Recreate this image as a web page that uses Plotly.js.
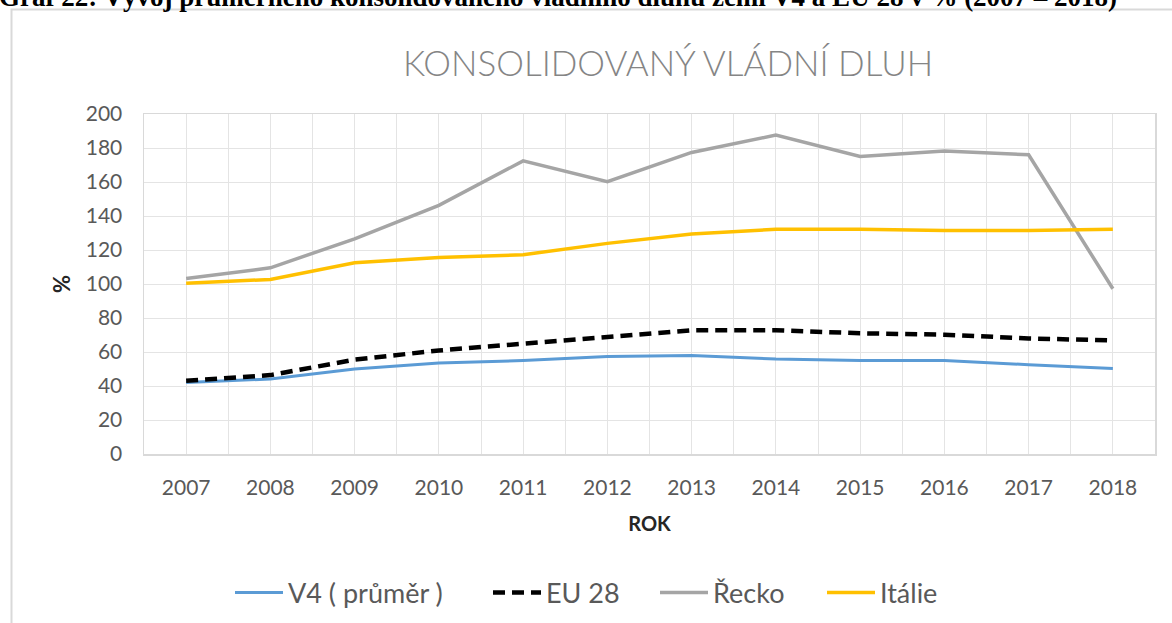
<!DOCTYPE html>
<html>
<head>
<meta charset="utf-8">
<script src="https://cdn.plot.ly/plotly-3.0.1.min.js"></script>
<style>
html,body{margin:0;padding:0;background:#fff;}
#chart{width:1172px;height:623px;}
</style>
</head>
<body>
<div id="chart"></div>
<script>
const years = [2007, 2008, 2009, 2010, 2011, 2012, 2013, 2014, 2015, 2016, 2017, 2018];
const v4 = [42.1, 44.1, 50.0, 53.5, 55.0, 57.4, 58.0, 55.9, 55.0, 55.0, 52.5, 50.3];
const eu28 = [43.1, 46.4, 55.5, 60.9, 64.9, 68.8, 72.8, 72.8, 71.0, 70.2, 68.0, 66.8];
const recko = [103.2, 109.5, 126.6, 146.3, 172.4, 160.2, 177.4, 187.6, 175.0, 178.3, 176.0, 97.2];
const italie = [100.5, 102.7, 112.5, 115.6, 117.2, 123.9, 129.4, 132.2, 132.2, 131.4, 131.4, 132.2];
const seriesNames = ["V4 ( průměr )", "EU 28", "Řecko", "Itálie"];
const yTicks = [0, 20, 40, 60, 80, 100, 120, 140, 160, 180, 200];

const W = 1172, H = 623;
const mL = 144, mR = 17, mT = 114, mB = 169;
const pw = W - mL - mR, ph = H - mT - mB;
const px = x => (x - mL) / pw;
const py = y => (H - mB - y) / ph;

const traces = [
  {x: years, y: v4, name: seriesNames[0], legend: 'legend', mode: 'lines', line: {color: '#5b9bd5', width: 3}},
  {x: years, y: eu28, name: seriesNames[1], legend: 'legend2', mode: 'lines', line: {color: '#000000', width: 4.5, dash: '12px,7px'}},
  {x: years, y: recko, name: seriesNames[2], legend: 'legend3', mode: 'lines', line: {color: '#a5a5a5', width: 3.5}},
  {x: years, y: italie, name: seriesNames[3], legend: 'legend4', mode: 'lines', line: {color: '#ffc000', width: 3.5}}
];

const fam = 'Lato, "Open Sans", sans-serif';
const tickFont = {family: fam, size: 21, color: '#595959'};
const legFont = {family: fam, size: 27, color: '#595959'};
const mkLeg = xStart => ({
  x: px(xStart), xanchor: 'left', y: py(593), yanchor: 'middle', orientation: 'h',
  font: legFont, bgcolor: 'rgba(0,0,0,0)', itemwidth: 48
});

const layout = {
  width: W, height: H,
  margin: {l: mL, r: mR, t: mT, b: mB, pad: 0, autoexpand: false},
  paper_bgcolor: '#ffffff', plot_bgcolor: '#ffffff',
  showlegend: true,
  title: {
    text: 'KONSOLIDOVANÝ VLÁDNÍ DLUH',
    font: {family: fam, size: 35, color: '#858585', weight: 300},
    x: px(668), xref: 'paper', xanchor: 'center',
    y: 1 - 64 / H, yref: 'container', yanchor: 'middle'
  },
  xaxis: {
    type: 'linear',
    range: [years[0] - 0.5, years[years.length - 1] + 0.5],
    tickvals: years, ticktext: years.map(String),
    tickfont: tickFont, ticks: '', ticklabelstandoff: 14,
    showgrid: true, gridcolor: '#e4e4e4', gridwidth: 1,
    minor: {dtick: 0.5, tick0: years[0] - 0.5, showgrid: true, gridcolor: '#e4e4e4', gridwidth: 1},
    showline: true, linecolor: '#d9d9d9', linewidth: 1.5, mirror: true,
    zeroline: false, fixedrange: true,
    title: {text: 'ROK', font: {family: fam, size: 20, color: '#262626', weight: 700}, standoff: 19}
  },
  yaxis: {
    range: [0, 200], tickvals: yTicks,
    tickfont: tickFont, ticks: '', ticklabelstandoff: 16,
    showgrid: true, gridcolor: '#e4e4e4', gridwidth: 1,
    showline: true, linecolor: '#d9d9d9', linewidth: 1.5, mirror: true,
    zeroline: false, fixedrange: true,
    title: {text: '%', font: {family: fam, size: 22, color: '#262626', weight: 700}, standoff: 9}
  },
  legend: mkLeg(230),
  legend2: mkLeg(488),
  legend3: mkLeg(655),
  legend4: mkLeg(822),
  shapes: [
    {type: 'rect', xref: 'paper', yref: 'paper', x0: px(11.5), x1: px(1200), y0: py(9.5), y1: py(700),
     line: {color: '#d9d9d9', width: 2}, fillcolor: 'rgba(0,0,0,0)', layer: 'below'}
  ],
  annotations: [
    {text: 'Graf 22: Vývoj průměrného konsolidovaného vládního dluhu zemí V4 a EU 28 v % (2007 – 2018)',
     xref: 'paper', yref: 'paper', x: px(-3), y: py(-3), xanchor: 'left', yanchor: 'middle',
     showarrow: false, font: {family: '"Liberation Serif", "Times New Roman", serif', size: 27, color: '#000000', weight: 700}}
  ]
};

Plotly.newPlot('chart', traces, layout, {displayModeBar: false, staticPlot: true});
</script>
</body>
</html>
